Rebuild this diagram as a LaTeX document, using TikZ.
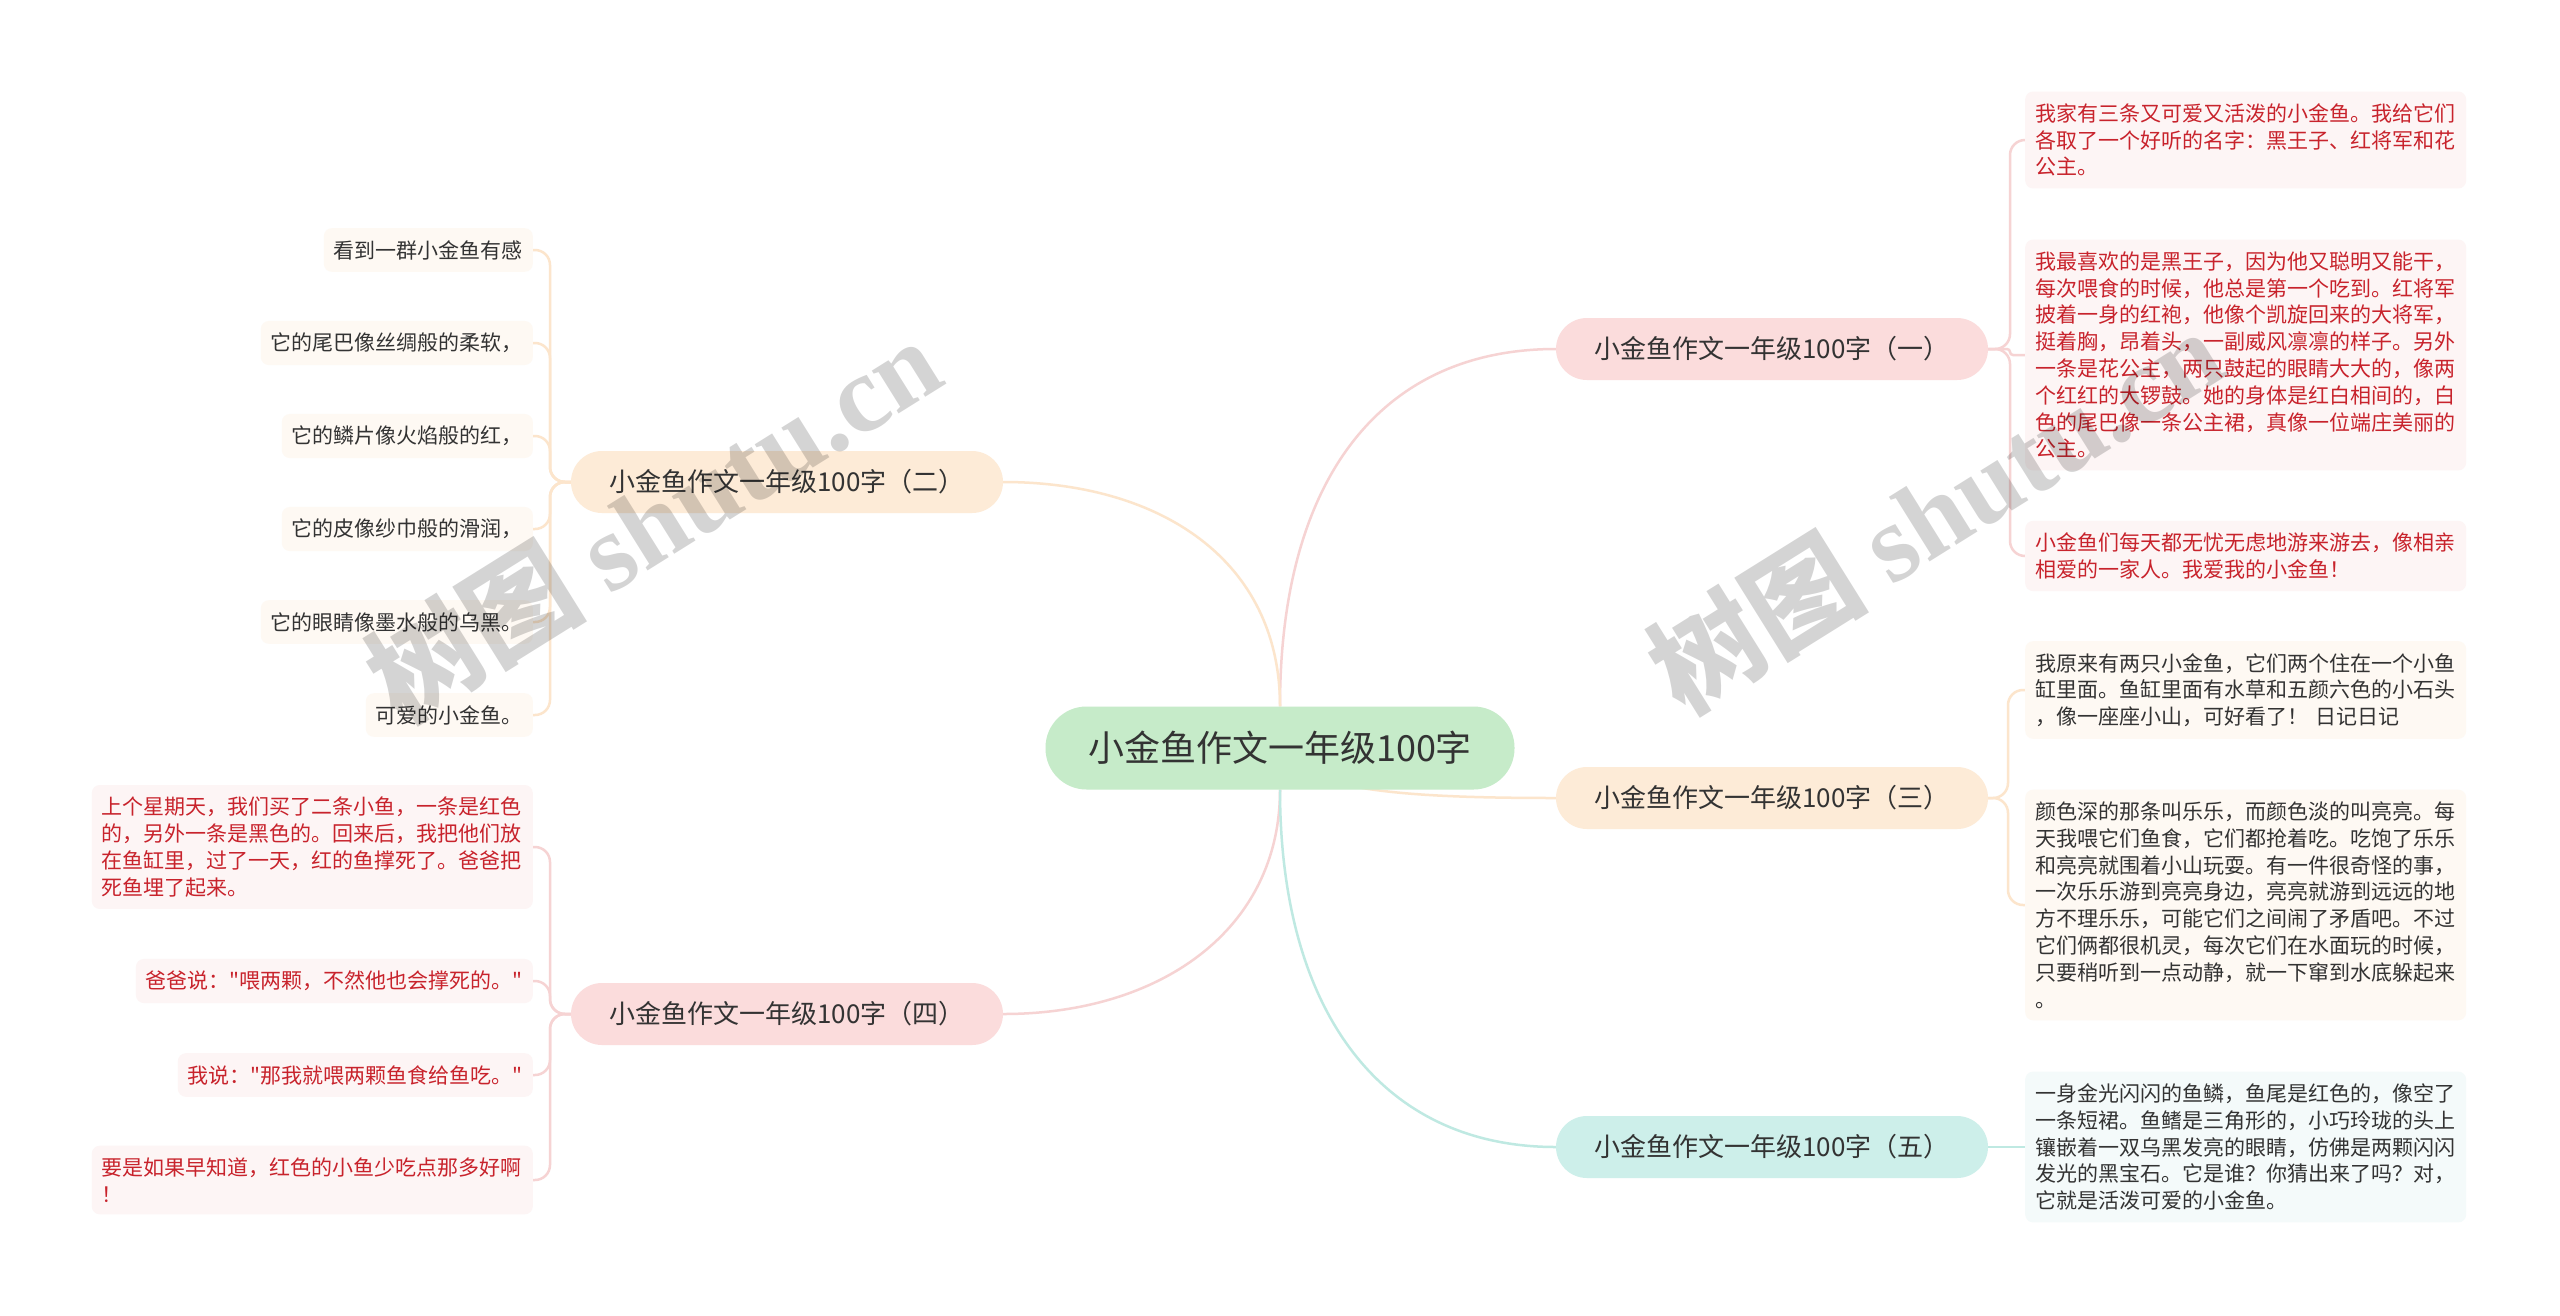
\documentclass[tikz,border=0pt]{standalone}
\usepackage{fontspec}
\setmainfont{Noto Sans CJK SC}[Ligatures=TeXOff]
\newfontfamily\wmlatin{Liberation Serif}
\pgfdeclarelayer{bg}
\pgfsetlayers{bg,main}
\definecolor{rootfill}{HTML}{C6EBC9}
\definecolor{pinkfill}{HTML}{FBDCDC}
\definecolor{orfill}{HTML}{FDEBD7}
\definecolor{tealfill}{HTML}{CDEFEA}
\definecolor{pinkline}{HTML}{F6D3D3}
\definecolor{orline}{HTML}{FCE5CC}
\definecolor{tealline}{HTML}{BFE9E2}
\definecolor{pinkleaf}{HTML}{FDF5F5}
\definecolor{orleaf}{HTML}{FEF9F3}
\definecolor{tealleaf}{HTML}{F4FAFA}
\definecolor{redtext}{HTML}{C8232C}
\definecolor{darktext}{HTML}{333333}
\tikzset{
  rootnode/.style={fill=rootfill, rounded corners=41pt, minimum width=469pt, minimum height=83pt, inner sep=0pt, font=\fontsize{36}{40}\selectfont, text=darktext},
  branchnode/.style={rounded corners=31pt, minimum width=432pt, minimum height=62pt, inner sep=0pt, font=\fontsize{26}{30}\selectfont, text=darktext},
  leafnode/.style={rounded corners=8pt, inner xsep=10pt, inner ysep=12pt, font=\fontsize{21}{26.8}\selectfont, align=left},
  widenode/.style={text width=421pt},
  redleaf/.style={leafnode, fill=pinkleaf, text=redtext},
  orleafs/.style={leafnode, fill=orleaf, text=darktext},
  tealleafs/.style={leafnode, fill=tealleaf, text=darktext},
  cpink/.style={draw=pinkline, line width=2.5pt},
  cor/.style={draw=orline, line width=2.5pt},
  cteal/.style={draw=tealline, line width=2.5pt},
  wmark/.style={font=\fontsize{110}{110}\selectfont\bfseries, text=black, text opacity=0.17, rotate=32}
}
\begin{document}
\begin{tikzpicture}[x=1pt,y=-1pt]
\useasboundingbox (0,0) rectangle (2560,1315);

% root and branches
\node[rootnode] (root) at (1280,748) {小金鱼作文一年级100字};
\node[branchnode, fill=pinkfill] (b1) at (1772,349) {小金鱼作文一年级100字（一）};
\node[branchnode, fill=orfill] (b2) at (787,482) {小金鱼作文一年级100字（二）};
\node[branchnode, fill=orfill] (b3) at (1772,798) {小金鱼作文一年级100字（三）};
\node[branchnode, fill=pinkfill] (b4) at (787,1014) {小金鱼作文一年级100字（四）};
\node[branchnode, fill=tealfill] (b5) at (1772,1147) {小金鱼作文一年级100字（五）};

% leaves of (一)
\node[redleaf, widenode, anchor=west] (l1a) at (2025,140) {我家有三条又可爱又活泼的小金鱼。我给它们\\各取了一个好听的名字：黑王子、红将军和花\\公主。};
\node[redleaf, widenode, anchor=west] (l1b) at (2025,355) {我最喜欢的是黑王子，因为他又聪明又能干，\\每次喂食的时候，他总是第一个吃到。红将军\\披着一身的红袍，他像个凯旋回来的大将军，\\挺着胸，昂着头，一副威风凛凛的样子。另外\\一条是花公主，两只鼓起的眼睛大大的，像两\\个红红的大锣鼓。她的身体是红白相间的，白\\色的尾巴像一条公主裙，真像一位端庄美丽的\\公主。};
\node[redleaf, widenode, anchor=west] (l1c) at (2025,556) {小金鱼们每天都无忧无虑地游来游去，像相亲\\相爱的一家人。我爱我的小金鱼！};

% leaves of (三)
\node[orleafs, widenode, anchor=west] (l3a) at (2025,690) {我原来有两只小金鱼，它们两个住在一个小鱼\\缸里面。鱼缸里面有水草和五颜六色的小石头\\，像一座座小山，可好看了！ 日记日记};
\node[orleafs, widenode, anchor=west] (l3b) at (2025,905) {颜色深的那条叫乐乐，而颜色淡的叫亮亮。每\\天我喂它们鱼食，它们都抢着吃。吃饱了乐乐\\和亮亮就围着小山玩耍。有一件很奇怪的事，\\一次乐乐游到亮亮身边，亮亮就游到远远的地\\方不理乐乐，可能它们之间闹了矛盾吧。不过\\它们俩都很机灵，每次它们在水面玩的时候，\\只要稍听到一点动静，就一下窜到水底躲起来\\。};

% leaf of (五)
\node[tealleafs, widenode, anchor=west] (l5) at (2025,1147) {一身金光闪闪的鱼鳞，鱼尾是红色的，像空了\\一条短裙。鱼鳍是三角形的，小巧玲珑的头上\\镶嵌着一双乌黑发亮的眼睛，仿佛是两颗闪闪\\发光的黑宝石。它是谁？你猜出来了吗？对，\\它就是活泼可爱的小金鱼。};

% leaves of (二)
\node[orleafs, anchor=east] (l2a) at (533,250) {看到一群小金鱼有感};
\node[orleafs, anchor=east] (l2b) at (533,343) {它的尾巴像丝绸般的柔软，};
\node[orleafs, anchor=east] (l2c) at (533,436) {它的鳞片像火焰般的红，};
\node[orleafs, anchor=east] (l2d) at (533,529) {它的皮像纱巾般的滑润，};
\node[orleafs, anchor=east] (l2e) at (533,622) {它的眼睛像墨水般的乌黑。};
\node[orleafs, anchor=east] (l2f) at (533,715) {可爱的小金鱼。};

% leaves of (四)
\node[redleaf, widenode, anchor=east] (l4a) at (533,847) {上个星期天，我们买了二条小鱼，一条是红色\\的，另外一条是黑色的。回来后，我把他们放\\在鱼缸里，过了一天，红的鱼撑死了。爸爸把\\死鱼埋了起来。};
\node[redleaf, anchor=east] (l4b) at (533,981) {爸爸说："喂两颗，不然他也会撑死的。"};
\node[redleaf, anchor=east] (l4c) at (533,1075) {我说："那我就喂两颗鱼食给鱼吃。"};
\node[redleaf, widenode, anchor=east] (l4d) at (533,1180) {要是如果早知道，红色的小鱼少吃点那多好啊\\！};

\begin{pgfonlayer}{bg}
\fill[white] (0,0) rectangle (2560,1315);
% root to branches
\draw[cpink] (root.north) .. controls (1280,480) and (1380,349) .. (b1.west);
\draw[cor] (root.north) .. controls (1280,560) and (1160,482) .. (b2.east);
\draw[cor] (root.center) .. controls (1300,790) and (1400,798) .. (b3.west);
\draw[cpink] (root.south) .. controls (1280,930) and (1160,1014) .. (b4.east);
\draw[cteal] (root.south) .. controls (1280,1010) and (1380,1147) .. (b5.west);
% (一)
\draw[cpink, rounded corners=15pt] (b1.east) -- (2010,349) |- (l1a.west);
\draw[cpink, rounded corners=3pt] (b1.east) -- (2010,349) |- (l1b.west);
\draw[cpink, rounded corners=15pt] (b1.east) -- (2010,349) |- (l1c.west);
% (三)
\draw[cor, rounded corners=15pt] (b3.east) -- (2008,798) |- (l3a.west);
\draw[cor, rounded corners=15pt] (b3.east) -- (2008,798) |- (l3b.west);
% (五)
\draw[cteal] (b5.east) -- (l5.west);
% (二)
\foreach \n in {l2a,l2b,l2c,l2d,l2e,l2f}
  \draw[cor, rounded corners=15pt] (b2.west) -- (550,482) |- (\n.east);
% (四)
\foreach \n in {l4a,l4b,l4c,l4d}
  \draw[cpink, rounded corners=15pt] (b4.west) -- (550,1014) |- (\n.east);
\end{pgfonlayer}

% watermarks
\node[wmark] (wm1) at (653,519) {树图 {\wmlatin shutu.cn}};
\node[wmark] (wm2) at (1935,510) {树图 {\wmlatin shutu.cn}};
\end{tikzpicture}
\end{document}
